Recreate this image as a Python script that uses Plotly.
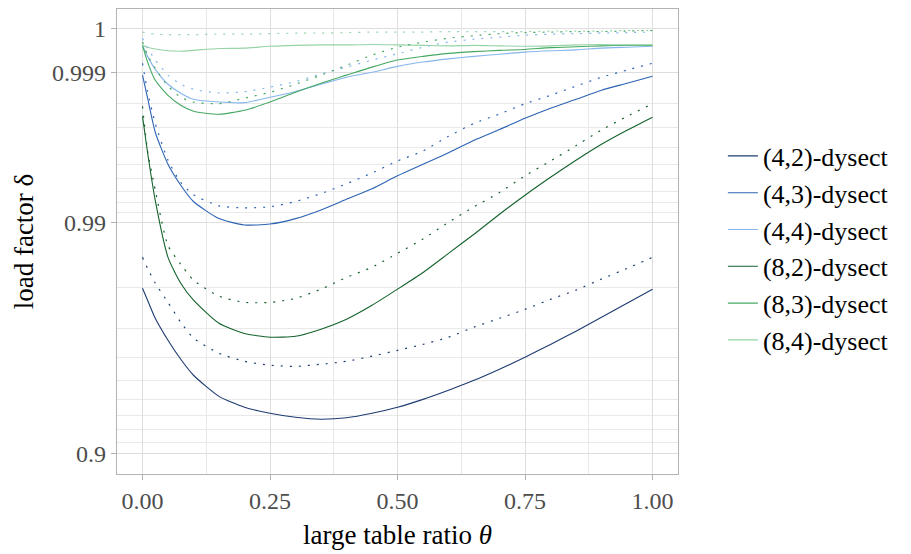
import numpy as np
import plotly.graph_objects as go

# large table ratio (x grid shared by every series)
theta = [0, 0.01, 0.025, 0.05, 0.075, 0.1, 0.15, 0.2, 0.25, 0.3, 0.35, 0.4,
         0.45, 0.5, 0.55, 0.6, 0.65, 0.7, 0.75, 0.8, 0.85, 0.9, 0.95, 1.0]

series_names = ["(4,2)-dysect", "(4,3)-dysect", "(4,4)-dysect",
                "(8,2)-dysect", "(8,3)-dysect", "(8,4)-dysect"]
series_colors = ["#1d3b70", "#2c63b3", "#86b6ec", "#14622c", "#44a862", "#96d3a6"]

# load factor, solid curves
solid_42 = [0.9799, 0.9773, 0.9728, 0.9662, 0.9593, 0.9525, 0.9418, 0.9354, 0.9316, 0.9289,
            0.9276, 0.9286, 0.9316, 0.9354, 0.9401, 0.9451, 0.9501, 0.9552, 0.9601, 0.9648,
            0.9691, 0.9731, 0.9766, 0.9797]
solid_43 = [0.99893, 0.9982, 0.99679, 0.99499, 0.99349, 0.9921, 0.9904, 0.9897, 0.9898, 0.9904,
            0.9913, 0.9923, 0.9932, 0.9942, 0.99499, 0.9957, 0.99639, 0.99692, 0.99742, 0.99783,
            0.99816, 0.99847, 0.99869, 0.9989]
solid_44 = [0.99967, 0.99942, 0.99909, 0.99866, 0.99837, 0.99816, 0.99806, 0.99804, 0.99823, 0.99843,
            0.99866, 0.99887, 0.99901, 0.99917, 0.99928, 0.99936, 0.99942, 0.99947, 0.99952, 0.99955,
            0.99957, 0.99961, 0.99963, 0.99965]
solid_82 = [0.9975, 0.9957, 0.9922, 0.9854, 0.9809, 0.9773, 0.9714, 0.9684, 0.9672, 0.9675,
            0.9697, 0.97253, 0.9761, 0.9797, 0.9829, 0.9860, 0.9886, 0.99086, 0.99266, 0.99409,
            0.99525, 0.99618, 0.99689, 0.99747]
solid_83 = [0.99967, 0.99928, 0.99878, 0.9983, 0.99794, 0.99771, 0.99759, 0.99775, 0.99806, 0.9984,
            0.99869, 0.99893, 0.99915, 0.99933, 0.99942, 0.99949, 0.99953, 0.99956, 0.99958, 0.99962,
            0.99964, 0.99966, 0.99967, 0.99967]
solid_84 = [0.99967, 0.99963, 0.99959, 0.99955, 0.99954, 0.99956, 0.9996, 0.99961, 0.99965, 0.99967,
            0.99968, 0.99968, 0.99969, 0.99968, 0.99967, 0.99966, 0.99967, 0.99966, 0.99965, 0.99966,
            0.99968, 0.99969, 0.99968, 0.99968]

# load factor, dotted curves
dotted_42 = [0.9854, 0.9836, 0.9809, 0.9768, 0.9717, 0.9669, 0.9616, 0.9585, 0.9569, 0.9564,
             0.9573, 0.9585, 0.9605, 0.9627, 0.9648, 0.9672, 0.9703, 0.9728, 0.9751, 0.9775,
             0.9795, 0.9817, 0.9836, 0.9854]
dotted_43 = [0.99925, 0.99843, 0.9972, 0.99525, 0.9937, 0.9927, 0.9917, 0.9915, 0.9916, 0.9921,
             0.9928, 0.9936, 0.9944, 0.9952, 0.9958, 0.99659, 0.9972, 0.9976, 0.9980, 0.9983,
             0.9986, 0.99887, 0.99907, 0.99925]
dotted_44 = [0.99982, 0.99961, 0.99933, 0.99893, 0.99866, 0.9985, 0.99838, 0.99842, 0.99857, 0.99874,
             0.99896, 0.99915, 0.99933, 0.99948, 0.99963, 0.99974, 0.9998, 0.99984, 0.99988, 0.9999,
             0.99991, 0.99992, 0.99993, 0.99994]
dotted_82 = [0.9979, 0.9958, 0.9931, 0.9871, 0.9843, 0.9815, 0.9782, 0.9768, 0.9768, 0.9777,
             0.9797, 0.9820, 0.9838, 0.9860, 0.9880, 0.9900, 0.9916, 0.9929, 0.9942, 0.9952,
             0.9961, 0.9969, 0.9975, 0.9980]
dotted_83 = [0.99974, 0.99945, 0.99912, 0.9986, 0.99823, 0.99806, 0.9980, 0.9982, 0.9984, 0.99866,
             0.99893, 0.9992, 0.99945, 0.99963, 0.99974, 0.99982, 0.99987, 0.99991, 0.99993, 0.99994,
             0.99995, 0.99995, 0.99996, 0.99997]
dotted_84 = [0.99994, 0.99992, 0.9999, 0.99989, 0.99989, 0.99989, 0.9999, 0.9999, 0.99991, 0.99992,
             0.99992, 0.99993, 0.99994, 0.99994, 0.99994, 0.99995, 0.99995, 0.99995, 0.99995, 0.99996,
             0.99996, 0.99996, 0.99997, 0.99997]

solid_series = [solid_42, solid_43, solid_44, solid_82, solid_83, solid_84]
dotted_series = [dotted_42, dotted_43, dotted_44, dotted_82, dotted_83, dotted_84]

# y tick values of the load factor
major_ticks = [0.9, 0.99, 0.999, 1]
major_labels = ["0.9", "0.99", "0.999", "1"]
minor_ticks = [0.91, 0.92, 0.93, 0.94, 0.95, 0.96, 0.97, 0.98,
               0.991, 0.992, 0.993, 0.994, 0.995, 0.996, 0.997, 0.998]
x_ticks = [0, 0.25, 0.5, 0.75, 1.0]
x_labels = ["0.00", "0.25", "0.50", "0.75", "1.00"]
x_minor = [0.125, 0.375, 0.625, 0.875]

OFFSET = 0.002


def scale(d):
    """Shifted log scale of the missing fraction, stretching values near 1."""
    return -np.log10(1.0 - np.asarray(d, dtype=float) + OFFSET)


FONT = "Liberation Serif"
fig = go.Figure()

for name, color, ys in zip(series_names, series_colors, solid_series):
    fig.add_trace(go.Scatter(
        x=theta, y=scale(ys), mode="lines", name=name, legendgroup=name,
        line=dict(color=color, width=1.1, shape="spline", smoothing=0.6)))

for name, color, ys in zip(series_names, series_colors, dotted_series):
    fig.add_trace(go.Scatter(
        x=theta, y=scale(ys), mode="lines", legendgroup=name, showlegend=False,
        line=dict(color=color, width=1.2, dash="2px,7px", shape="spline", smoothing=0.6),
        hoverinfo="skip"))

grid_major = "#dedede"
grid_minor = "#e9e9e9"
border = "#b3b3b3"

fig.update_layout(
    width=911, height=554,
    margin=dict(l=117, r=233, t=9, b=80),
    paper_bgcolor="white", plot_bgcolor="white",
    font=dict(family=FONT, size=24, color="#4d4d4d"),
    showlegend=True,
    legend=dict(x=1.08, xanchor="left", y=0.486, yanchor="middle",
                font=dict(family=FONT, size=26, color="black"),
                tracegroupgap=0, traceorder="normal", bgcolor="rgba(0,0,0,0)"),
    xaxis=dict(
        range=[-0.05, 1.05], tickvals=x_ticks, ticktext=x_labels,
        showgrid=True, gridcolor=grid_major, gridwidth=1.1,
        minor=dict(tickvals=x_minor, showgrid=True, gridcolor=grid_minor, gridwidth=0.8, ticklen=0),
        ticks="outside", ticklen=5, tickcolor=border, tickwidth=1,
        showline=True, mirror=True, linecolor=border, linewidth=1.2,
        zeroline=False,
        tickfont=dict(family=FONT, size=24, color="#4d4d4d"),
        title=dict(text="large table ratio <i>θ</i>", standoff=12,
                   font=dict(family=FONT, size=27, color="black")),
    ),
    yaxis=dict(
        range=[0.908, 2.779], tickvals=list(scale(major_ticks)), ticktext=major_labels,
        showgrid=True, gridcolor=grid_major, gridwidth=1.1,
        minor=dict(tickvals=list(scale(minor_ticks)), showgrid=True, gridcolor=grid_minor,
                   gridwidth=0.8, ticklen=0),
        ticks="outside", ticklen=5, tickcolor=border, tickwidth=1,
        showline=True, mirror=True, linecolor=border, linewidth=1.2,
        zeroline=False,
        tickfont=dict(family=FONT, size=24, color="#4d4d4d"),
        title=dict(text="load factor δ", standoff=10,
                   font=dict(family=FONT, size=27, color="black")),
    ),
)

fig.write_html("out.html")
